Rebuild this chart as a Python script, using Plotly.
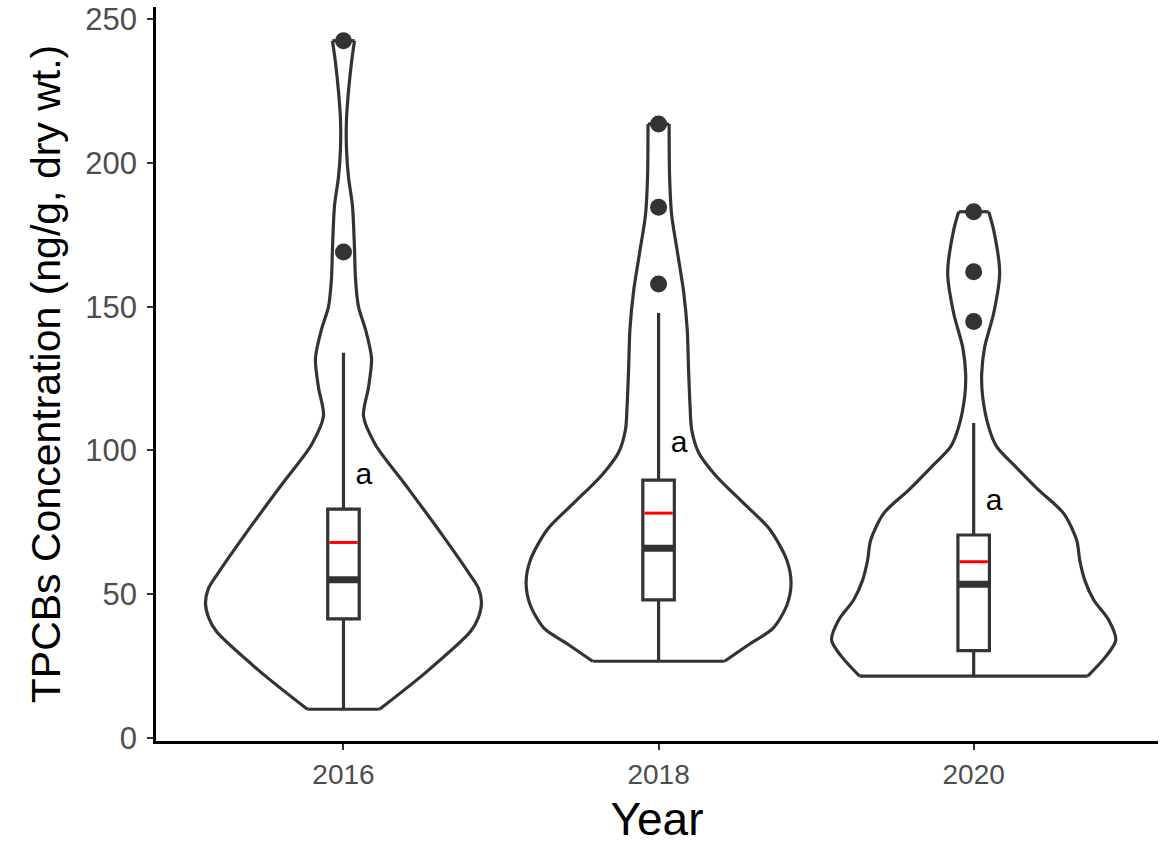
import plotly.graph_objects as go

# box plot summaries per year (ng/g, dry wt.)
years = [2016, 2018, 2020]
q1 = [41.4, 48.0, 30.4]
median = [55.0, 66.0, 53.5]
q3 = [79.6, 89.7, 70.6]
whisker_low = [10.0, 27.0, 21.5]
whisker_high = [134.0, 147.8, 109.5]
means = [68.0, 78.2, 61.3]

outlier_year = [2016, 2016, 2018, 2018, 2018, 2020, 2020, 2020]
outlier_value = [242.5, 169.0, 213.5, 184.6, 157.9, 183.0, 162.1, 144.8]

# violin outlines: concentration level and half width (in years)
vio_2016_y = [10, 23, 37, 42, 47, 52, 57, 71, 88, 102, 112, 122, 132, 142, 150, 160,
              170, 185, 195, 205, 215, 225, 235, 242.5]
vio_2016_hw = [0.229, 0.527, 0.806, 0.857, 0.876, 0.857, 0.8, 0.622, 0.394, 0.203,
               0.127, 0.159, 0.178, 0.14, 0.095, 0.076, 0.07, 0.057, 0.032, 0.019,
               0.019, 0.032, 0.051, 0.07]
vio_2018_y = [26.7, 32.7, 38, 46, 54, 62, 72.6, 82, 91.3, 99.3, 107.3, 115.3, 128.6,
              141.9, 155.2, 168.5, 181.9, 195.2, 213.5]
vio_2018_hw = [0.419, 0.578, 0.724, 0.813, 0.841, 0.813, 0.705, 0.533, 0.362, 0.254,
               0.21, 0.2, 0.19, 0.182, 0.159, 0.121, 0.083, 0.07, 0.067]
vio_2020_y = [21.5, 28.3, 34, 41, 48, 54.9, 61.9, 68.8, 78.1, 86.2, 94.3, 101.3,
              108.2, 118.7, 126.8, 136, 147.7, 161.6, 176.6, 183]
vio_2020_hw = [0.724, 0.838, 0.902, 0.857, 0.762, 0.705, 0.673, 0.654, 0.571, 0.413,
               0.267, 0.146, 0.095, 0.057, 0.051, 0.07, 0.127, 0.165, 0.127, 0.095]

label_y = [91, 102, 82]
label_text = ["a", "a", "a"]

DARK = "#333333"
FONT = "Liberation Sans, Arial, sans-serif"
BOX_W = 0.2
LW = 3.2

fig = go.Figure()

violins = [(2016, vio_2016_y, vio_2016_hw), (2018, vio_2018_y, vio_2018_hw),
           (2020, vio_2020_y, vio_2020_hw)]
for year, ys, hws in violins:
    right = [year + h for h in hws]
    left = [year - h for h in hws]
    xs = right + [None] + left + [None] + [left[0], right[0]] + [None] + [left[-1], right[-1]]
    yy = ys + [None] + ys + [None] + [ys[0], ys[0]] + [None] + [ys[-1], ys[-1]]
    fig.add_trace(go.Scatter(x=xs, y=yy, mode="lines",
                             line=dict(color=DARK, width=LW, shape="spline", smoothing=0.8),
                             connectgaps=False, hoverinfo="skip", showlegend=False))

fig.add_trace(go.Box(x=years, q1=q1, median=median, q3=q3,
                     lowerfence=whisker_low, upperfence=whisker_high,
                     width=BOX_W, whiskerwidth=0, fillcolor="white",
                     line=dict(color=DARK, width=LW), showlegend=False))

# thick median bars and red mean bars
mx, my, ax, ay = [], [], [], []
for i, year in enumerate(years):
    mx += [year - BOX_W / 2, year + BOX_W / 2, None]
    my += [median[i], median[i], None]
    ax += [year - BOX_W / 2 + 0.01, year + BOX_W / 2 - 0.01, None]
    ay += [means[i], means[i], None]
fig.add_trace(go.Scatter(x=mx, y=my, mode="lines", line=dict(color=DARK, width=7),
                         hoverinfo="skip", showlegend=False))
fig.add_trace(go.Scatter(x=ax, y=ay, mode="lines", line=dict(color="red", width=3),
                         hoverinfo="skip", showlegend=False))

fig.add_trace(go.Scatter(x=outlier_year, y=outlier_value, mode="markers",
                         marker=dict(color=DARK, size=17), showlegend=False))

fig.add_trace(go.Scatter(x=[y + 0.13 for y in years], y=label_y, mode="text",
                         text=label_text, textposition="middle center",
                         textfont=dict(family=FONT, size=30, color="black"),
                         showlegend=False))

fig.update_layout(
    width=1166, height=845,
    margin=dict(l=156, r=8, t=7, b=104),
    plot_bgcolor="white", paper_bgcolor="white",
    font=dict(family=FONT),
    xaxis=dict(
        range=[2014.81, 2021.17], tickvals=years, ticktext=[str(y) for y in years],
        showgrid=False, zeroline=False, showline=True, linecolor="black", linewidth=2.8,
        ticks="outside", ticklen=6, tickwidth=2.2, tickcolor=DARK, automargin=False,
        tickfont=dict(family=FONT, size=28, color="#4D4D4D"),
        title=dict(text="Year", font=dict(family=FONT, size=46, color="black"), standoff=22),
    ),
    yaxis=dict(
        range=[-1.04, 254.2], tickvals=[0, 50, 100, 150, 200, 250],
        showgrid=False, zeroline=False, showline=True, linecolor="black", linewidth=2.8,
        ticks="outside", ticklen=6, tickwidth=2.2, tickcolor=DARK, automargin=False,
        ticklabelstandoff=4, ticklabeloverflow="allow",
        tickfont=dict(family=FONT, size=31, color="#4D4D4D"),
        title=dict(text="TPCBs Concentration (ng/g, dry wt.)",
                   font=dict(family=FONT, size=41, color="black"), standoff=12),
    ),
)

# drop the browser's default 8px body margin so the figure fills the window
fig.write_html("out.html", config={"displayModeBar": False},
               post_script="document.body.style.margin = '0';")
